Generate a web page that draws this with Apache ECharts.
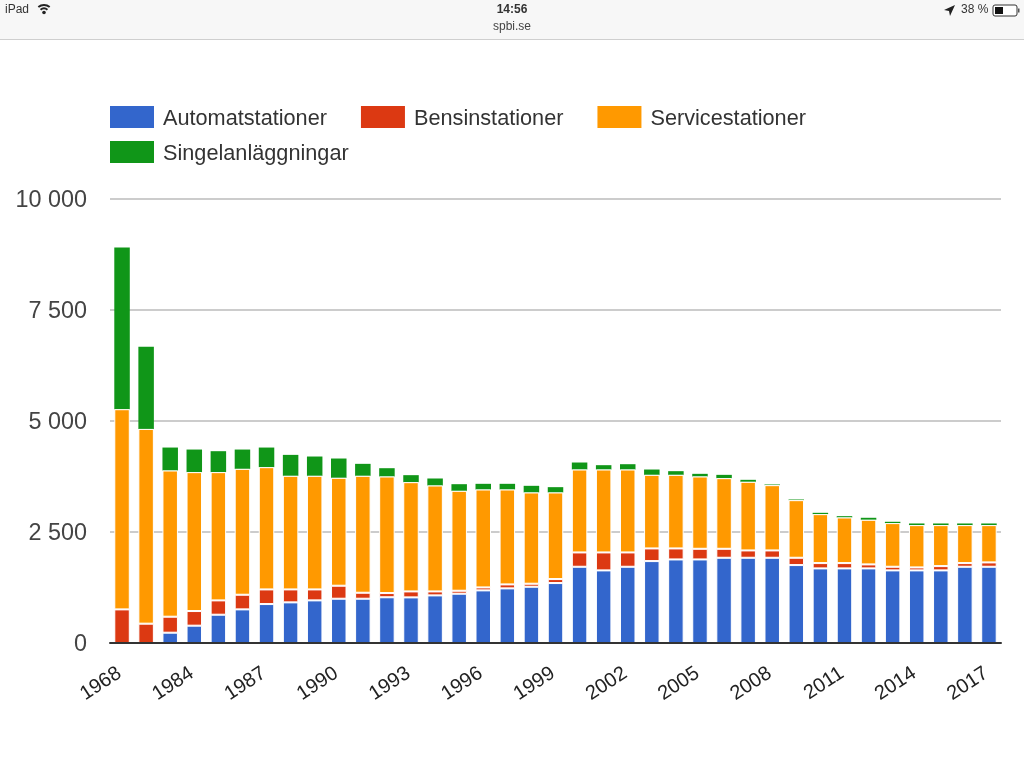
<!DOCTYPE html>
<html>
<head>
<meta charset="utf-8">
<style>html,body{margin:0;padding:0;background:#fff}#c{width:1024px;height:768px}</style>
<script src="https://cdn.jsdelivr.net/npm/echarts@6/dist/echarts.min.js"></script>
</head>
<body>
<div id="c"></div>
<script>
const categories = ['1968','1975','1983','1984','1985','1986','1987','1988','1989','1990','1991','1992','1993','1994','1995','1996','1997','1998','1999','2000','2001','2002','2003','2004','2005','2006','2007','2008','2009','2010','2011','2012','2013','2014','2015','2016','2017'];
const automat = [null,null,232,390,637,757,877,915,960,997,997,1030,1027,1072,1110,1185,1230,1267,1350,1717,1635,1717,1845,1882,1882,1920,1920,1920,1755,1680,1680,1680,1635,1635,1635,1717,1717];
const bensin = [757,435,360,330,323,330,330,292,247,293,135,95,135,90,67,67,90,68,90,323,405,323,285,248,240,202,165,165,165,120,120,90,82,67,97,83,98];
const service = [4508,4387,3293,3128,2888,2835,2753,2558,2558,2430,2633,2625,2460,2385,2250,2205,2137,2055,1950,1867,1867,1867,1657,1657,1628,1590,1545,1470,1297,1102,1027,1005,983,953,923,855,840];
const singel = [3645,1853,517,509,472,435,442,472,435,435,270,187,158,158,150,128,128,150,120,158,98,120,120,83,60,75,45,15,15,30,30,45,30,37,37,37,37];
const seriesNames = ['Automatstationer','Bensinstationer','Servicestationer','Singelanläggningar'];
const seriesColors = ['#3366cc','#dc3912','#ff9900','#109618'];
const seriesValues = [automat, bensin, service, singel];
const FONT = '"Liberation Sans", Arial, sans-serif';

const chart = echarts.init(document.getElementById('c'), null, {renderer:'canvas'});
const legendBase = {
  orient:'horizontal', itemWidth:44, itemHeight:22, itemGap:34, icon:'rect',
  itemStyle:{borderWidth:0},
  formatter:n=>'{t|'+n+'}',
  textStyle:{rich:{t:{fontFamily:FONT,fontSize:21.7,color:'#333',padding:[4,0,0,4]}}}, padding:0,
  selectedMode:false
};
const statusText = (x,y,text,extra) => ({type:'text',silent:true,x:x,y:y,style:Object.assign({text:text,fontFamily:FONT,fontSize:12,fill:'#333',textVerticalAlign:'middle'},extra||{})});
chart.setOption({
  animation:false,
  backgroundColor:'#fff',
  legend:[
    Object.assign({},legendBase,{left:110,top:106,data:seriesNames.slice(0,3)}),
    Object.assign({},legendBase,{left:110,top:141,data:seriesNames.slice(3)})
  ],
  grid:{left:110,right:23,top:199,height:444,containLabel:false},
  xAxis:{
    type:'category',data:categories,z:5,
    axisTick:{show:false},
    axisLine:{lineStyle:{color:'#333',width:2}},
    axisLabel:{interval:2,rotate:33,margin:27,padding:[0,3,0,0],fontFamily:FONT,fontSize:20,color:'#222'}
  },
  yAxis:{
    type:'value',min:0,max:10000,interval:2500,
    axisLine:{show:false},axisTick:{show:false},
    splitLine:{lineStyle:{color:'#ccc',width:2}},
    axisLabel:{margin:23,
      formatter:v=>'{t|'+String(v).replace(/\B(?=(\d{3})+$)/g,' ')+'}',
      rich:{t:{padding:[4,0,0,0],fontFamily:FONT,fontSize:23.4,color:'#444'}}}
  },
  series:seriesNames.map((n,i)=>({
    name:n,type:'bar',stack:'total',barWidth:15.5,
    z:i===3?2:3,
    data:seriesValues[i],
    itemStyle:{color:seriesColors[i],borderColor:'#fff',borderWidth:i===3?0:1}
  })),
  graphic:[
    {type:'rect',silent:true,z:0,shape:{x:0,y:0,width:1024,height:39},style:{fill:'#f7f7f7'}},
    {type:'rect',silent:true,z:0,shape:{x:0,y:39,width:1024,height:1},style:{fill:'#cfcfcf'}},
    statusText(5,10,'iPad'),
    {type:'arc',silent:true,shape:{cx:44,cy:14,r:9,startAngle:-2.25,endAngle:-0.89},style:{stroke:'#222',lineWidth:2,fill:null}},
    {type:'arc',silent:true,shape:{cx:44,cy:14,r:5.5,startAngle:-2.25,endAngle:-0.89},style:{stroke:'#222',lineWidth:2,fill:null}},
    {type:'circle',silent:true,shape:{cx:44,cy:12.5,r:1.8},style:{fill:'#222'}},
    statusText(512,10,'14:56',{fontWeight:'bold',textAlign:'center'}),
    statusText(512,27,'spbi.se',{fill:'#444',textAlign:'center'}),
    {type:'polygon',silent:true,shape:{points:[[955,5],[944,10],[949,11],[950,16]]},style:{fill:'#222'}},
    statusText(961,10,'38 %'),
    {type:'rect',silent:true,shape:{x:993,y:5,width:24,height:11,r:2},style:{stroke:'#333',lineWidth:1,fill:'#fff'}},
    {type:'rect',silent:true,shape:{x:995,y:7,width:8,height:7},style:{fill:'#111'}},
    {type:'rect',silent:true,shape:{x:1018,y:8.5,width:1.5,height:4},style:{fill:'#555'}}
  ]
});
</script>
</body>
</html>
